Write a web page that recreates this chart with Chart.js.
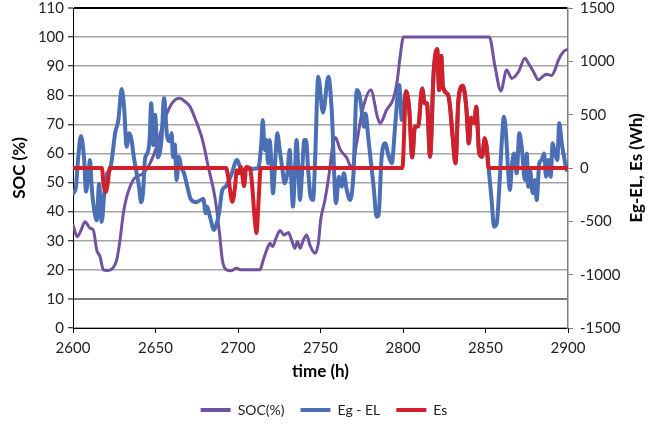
<!DOCTYPE html>
<html><head><meta charset="utf-8">
<script src="https://cdn.jsdelivr.net/npm/chart.js@4.4.0/dist/chart.umd.min.js"></script>
<style>html,body{margin:0;padding:0;background:#fff}</style>
</head><body>
<canvas id="c" width="648" height="425"></canvas>
<script>
// ---- data ----
const xTitle = 'time (h)';
const leftTitle = 'SOC (%)';
const rightTitle = 'Eg-EL, Es (Wh)';
const seriesNames = ['SOC(%)', 'Eg - EL', 'Es'];

const socHours = [2600,2602.6,2604.8,2607.3,2610.3,2612.3,2614.4,2616.4,2618.4,2621,
  2624,2626.5,2628.5,2630.5,2632.5,2636.5,2638.6,2642.6,2646.7,2650.7,
  2654.7,2658.8,2661.8,2664.8,2667.9,2670.9,2674,2678.5,2682,2686,
  2688.8,2690.5,2693,2696,2699,2702,2713.3,2715.3,2717.4,2719.4,
  2721,2723,2725.5,2727.9,2730.5,2732.5,2734.5,2736,2737.6,2739.6,
  2741.6,2743.6,2746.7,2748.7,2750.1,2752.7,2755,2757.5,2759,2761.8,
  2765.9,2768.9,2771.9,2775.5,2780.5,2784.5,2786.1,2790.1,2794.1,2796.5,
  2798.2,2800.3,2852.3,2855.8,2859.3,2862.8,2865.9,2869.9,2874,2876,
  2879,2882,2885,2887,2890.1,2892.1,2894.1,2897.2,2900];
const socValues = [35.4,31.4,33.5,36.5,34.3,33.7,26.8,24.5,20,19.8,
  20.5,23.4,30.2,39.4,45,50.9,52,53.2,56.6,62.3,
  70.4,76.1,78.4,79,77.8,76.1,72,64.6,55.4,45,
  32.6,23.4,20,19.7,20.5,20,20,23.4,26.8,29.1,
  28,30.8,33.5,32,32.8,30.2,27.4,29.7,27.4,30.2,
  32,28.5,25.7,29.1,37.1,44,52,63,65.5,61.5,
  58.5,55,63.5,75,81.8,72.5,70.4,75,78.7,85,
  93,100,100,89.8,81.5,88.7,85.8,88,92.7,91,
  88.2,85.3,86.6,87.2,86.8,88.7,92,95,95.8];

const egHours = [2600.3,2601.8,2603.2,2604.8,2606.7,2607.9,2609.3,2610.3,2611.3,2612.3,
  2614.4,2615.8,2617.4,2619,2620.5,2622.3,2623.5,2625.5,2627.5,2629.5,
  2631,2632.5,2634.1,2635.5,2636.7,2638.6,2640,2641.3,2642.4,2643.6,
  2645,2646.4,2647.4,2648.7,2649.7,2651.5,2653.6,2655.2,2657,2658.5,
  2659.8,2660.6,2661.7,2662.8,2664.2,2665.5,2667.3,2669.3,2671.3,2674.4,
  2677.4,2679,2680.4,2681.2,2683,2685.5,2687.1,2688.5,2690.5,2692.5,
  2696,2699.4,2701,2702,2705,2712.3,2714.2,2715,2716.2,2717.2,
  2718.2,2719.2,2720.2,2721.2,2722.6,2723.8,2725.3,2726.7,2728.3,2729.9,
  2731.3,2732.3,2733.3,2734.3,2735.5,2736.5,2737.6,2738.8,2740.2,2741.3,
  2742.4,2744,2745.5,2746.8,2748.6,2751.5,2754.8,2756.8,2759.4,2761.2,
  2762.8,2764.2,2765.7,2768,2770,2772,2773.7,2775.2,2776.4,2777.3,
  2778.9,2780.2,2782.2,2784,2785.2,2787,2789.2,2791.2,2793.2,2795.2,
  2797.7,2799.3,2801.9,2803.8,2805.6,2807.2,2809.2,2811.6,2813.2,2814.5,
  2816.4,2818.6,2820.7,2821.9,2823.2,2824.2,2827.2,2828.5,2830.1,2831.8,
  2833.6,2836.3,2838.4,2839.9,2841.2,2843.2,2844.4,2846.2,2848,2849.5,
  2850.7,2851.9,2853.7,2855.2,2856.8,2858.4,2859.8,2861.2,2862.4,2863.8,
  2864.8,2865.9,2867.3,2868.9,2870.5,2871.9,2873.9,2875,2876,2877,
  2878.6,2880,2881,2882.6,2884,2885.5,2886.7,2888.1,2889.5,2890.7,
  2892.1,2893.5,2894.7,2896.2,2897.6,2899.2,2900];
const egValues = [-237,-175,106,300,90,-222,-50,75,-175,-331,
  -490,-150,-505,-230,-60,-19,75,325,450,740,
  560,200,325,262,120,-50,-175,-320,-237,80,
  137,262,606,215,500,100,262,653,300,250,
  325,100,220,-112,106,10,-50,-175,-290,-320,
  -300,-290,-425,-362,-456,-581,-519,-425,-206,-175,
  -60,75,20,-19,-10,0,250,450,169,262,
  44,262,50,-237,75,325,169,12,-144,-50,
  169,-112,-362,-112,262,12,-300,-50,262,262,
  12,-269,-300,106,856,520,856,544,-331,-81,
  -175,-50,-190,-300,-50,731,680,512,387,512,
  294,106,-175,-456,-440,90,231,120,44,387,
  778,450,720,544,100,387,390,745,606,606,
  106,900,1115,731,1050,762,690,575,294,44,
  637,770,560,231,470,419,575,137,106,280,
  200,0,-300,-550,-519,-175,231,481,325,-50,
  -206,12,137,-50,325,200,-112,137,-175,-19,
  -237,-112,-300,44,75,137,-81,75,-81,231,
  137,75,419,231,106,-19,20];

const esHours = [2600,2617.5,2618.5,2619.8,2621,2622.3,2692.8,2694.3,2696.6,2698.2,
  2699.3,2700.5,2701.8,2703.7,2705,2707.3,2708.5,2710,2711.2,2712.5,
  2713.8,2799.6,2801.9,2803.8,2805.6,2807.2,2809.2,2811.6,2813.2,2814.5,
  2816.4,2818.6,2820.7,2821.9,2823.2,2824.2,2827.2,2828.5,2830.1,2831.8,
  2833.6,2836.3,2838.4,2839.9,2841.2,2843.2,2844.4,2846.2,2848,2849.5,
  2850.7,2851.9,2900];
const esValues = [0,0,-150,-225,-150,0,0,-110,-316,-180,
  -20,-50,10,-170,10,0,-150,-450,-610,-300,
  0,0,720,544,100,387,390,745,606,606,
  106,900,1115,731,1050,762,690,575,294,44,
  637,770,560,231,470,419,575,137,106,280,
  200,0,0];

const xTicks = {min: 2600, max: 2900, step: 50};
const leftTicks = {min: 0, max: 110, step: 10};
const rightTicks = {min: -1500, max: 1500, step: 500};

// ---- chart ----
const FONT = 'Lato';
const pts = (xs, ys) => xs.map((x, i) => ({x, y: ys[i]}));
const plain = v => String(v);

const rightTitlePlugin = {
  id: 'rightTitlePlugin',
  afterDraw(chart) {
    const {ctx, chartArea} = chart;
    const s = chart.scales.y1;
    ctx.save();
    ctx.font = 'bold 17px ' + FONT;
    ctx.fillStyle = '#000';
    ctx.textAlign = 'center';
    ctx.textBaseline = 'middle';
    ctx.translate(s.right - 11, (chartArea.top + chartArea.bottom) / 2);
    ctx.rotate(-Math.PI / 2);
    ctx.fillText(rightTitle, 0, 0);
    ctx.restore();
  }
};

new Chart(document.getElementById('c'), {
  type: 'line',
  data: {
    datasets: [
      {label: seriesNames[0], data: pts(socHours, socValues), yAxisID: 'y',
       borderColor: '#7152A0', backgroundColor: '#7152A0', borderWidth: 3, order: 3},
      {label: seriesNames[1], data: pts(egHours, egValues), yAxisID: 'y1',
       borderColor: '#4B6FB5', backgroundColor: '#4B6FB5', borderWidth: 4, order: 2},
      {label: seriesNames[2], data: pts(esHours, esValues), yAxisID: 'y1',
       borderColor: '#D2202A', backgroundColor: '#D2202A', borderWidth: 4, order: 1}
    ]
  },
  options: {
    responsive: false,
    animation: false,
    layout: {padding: {top: 0, left: 0, right: 0, bottom: -2}},
    elements: {
      point: {radius: 0, hoverRadius: 0},
      line: {tension: 0.4, cubicInterpolationMode: 'monotone', borderCapStyle: 'round', borderJoinStyle: 'round'}
    },
    plugins: {
      tooltip: {enabled: false},
      legend: {
        position: 'bottom',
        labels: {
          boxWidth: 30, boxHeight: 4, padding: 16,
          color: '#222',
          font: {family: FONT, size: 14},
          sort: (a, b) => a.datasetIndex - b.datasetIndex,
          generateLabels(chart) {
            const items = Chart.defaults.plugins.legend.labels.generateLabels(chart);
            items.forEach(it => { it.lineWidth = 0; it.fillStyle = it.strokeStyle; });
            return items;
          }
        }
      }
    },
    scales: {
      x: {
        type: 'linear', min: xTicks.min, max: xTicks.max,
        ticks: {stepSize: xTicks.step, callback: plain, color: '#222', padding: 6, font: {family: FONT, size: 15}},
        grid: {drawOnChartArea: false, drawTicks: true, tickLength: 5, tickColor: '#000'},
        border: {color: '#000', width: 1},
        title: {display: true, text: xTitle, color: '#000', font: {family: FONT, size: 17, weight: 'bold'}, padding: {top: 0, bottom: 5}},
        afterFit(s) { s.height = 59; }
      },
      y: {
        position: 'left', min: leftTicks.min, max: leftTicks.max,
        ticks: {stepSize: leftTicks.step, callback: plain, color: '#222', padding: 4, font: {family: FONT, size: 15}},
        grid: {
          color: c => c.tick.value === 110 ? '#000' : (c.tick.value === 10 ? '#7a7a7a' : '#a4a4a4'),
          lineWidth: c => (c.tick.value === 110 || c.tick.value === 10) ? 2 : 1.5,
          drawTicks: true, tickLength: 5, tickColor: '#000', tickWidth: 1
        },
        border: {color: '#000', width: 1},
        title: {display: true, text: leftTitle, color: '#000', font: {family: FONT, size: 17, weight: 'bold'}, padding: {top: 9}},
        afterFit(s) { s.width = 73; s.paddingTop = 8; s.paddingBottom = 0; }
      },
      y1: {
        position: 'right', min: rightTicks.min, max: rightTicks.max,
        ticks: {stepSize: rightTicks.step, callback: plain, color: '#222', padding: 7, font: {family: FONT, size: 15}},
        grid: {drawOnChartArea: false, drawTicks: true, tickLength: 5, tickColor: '#808080'},
        border: {color: '#808080', width: 1.5},
        afterFit(s) { s.width = 80; s.paddingTop = 8; s.paddingBottom = 0; }
      }
    }
  },
  plugins: [rightTitlePlugin]
});
</script>
</body></html>
